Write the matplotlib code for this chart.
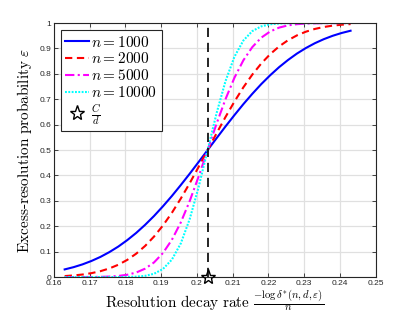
import matplotlib
matplotlib.use("Agg")
import matplotlib.pyplot as plt
import numpy as np
from matplotlib.ticker import FormatStrFormatter

plt.rcParams["mathtext.fontset"] = "cm"

# Decay rate grid (x) and excess-resolution probability
rate = np.linspace(0.163, 0.243, 33)
eps_1000 = [0.0301, 0.0390, 0.0500, 0.0634, 0.0793, 0.0982, 0.1200, 0.1453, 0.1736, 0.2055, 0.2404,
            0.2786, 0.3192, 0.3624, 0.4071, 0.4534, 0.5000, 0.5466, 0.5929, 0.6376, 0.6808, 0.7214,
            0.7596, 0.7945, 0.8264, 0.8547, 0.8800, 0.9018, 0.9207, 0.9366, 0.9500, 0.9610, 0.9699]
eps_2000 = [0.0039, 0.0064, 0.0100, 0.0154, 0.0231, 0.0339, 0.0484, 0.0675, 0.0919, 0.1224, 0.1594,
            0.2030, 0.2530, 0.3092, 0.3699, 0.4341, 0.5000, 0.5659, 0.6301, 0.6908, 0.7470, 0.7970,
            0.8406, 0.8776, 0.9081, 0.9325, 0.9516, 0.9661, 0.9769, 0.9846, 0.9900, 0.9936, 0.9961]
eps_5000 = [0.0000, 0.0000, 0.0001, 0.0003, 0.0008, 0.0019, 0.0043, 0.0090, 0.0178, 0.0330, 0.0575,
            0.0946, 0.1466, 0.2153, 0.2998, 0.3963, 0.5000, 0.6037, 0.7002, 0.7847, 0.8534, 0.9054,
            0.9425, 0.9670, 0.9822, 0.9910, 0.9957, 0.9981, 0.9992, 0.9997, 0.9999, 1.0000, 1.0000]
eps_10000 = [0.0000, 0.0000, 0.0000, 0.0000, 0.0000, 0.0000, 0.0001, 0.0004, 0.0015, 0.0047, 0.0129,
             0.0317, 0.0687, 0.1326, 0.2288, 0.3553, 0.5000, 0.6447, 0.7712, 0.8674, 0.9313, 0.9683,
             0.9871, 0.9953, 0.9985, 0.9996, 0.9999, 1.0000, 1.0000, 1.0000, 1.0000, 1.0000, 1.0000]
c_over_d = 0.203

x_ticks = [0.16, 0.17, 0.18, 0.19, 0.20, 0.21, 0.22, 0.23, 0.24, 0.25]
y_ticks = [0, 0.1, 0.2, 0.3, 0.4, 0.5, 0.6, 0.7, 0.8, 0.9, 1]

fig = plt.figure(figsize=(4.15, 3.12), dpi=100)
ax = fig.add_axes([0.13, 0.112, 0.775, 0.814])

ax.plot(rate, eps_1000, color=(0, 0, 1), lw=1.5, ls="-", label=r"$n = 1000$")
ax.plot(rate, eps_2000, color=(1, 0, 0), lw=1.5, ls=(0, (3.5, 2.2)), label=r"$n = 2000$")
ax.plot(rate, eps_5000, color=(1, 0, 1), lw=1.5, ls=(0, (4.5, 1.6, 1.0, 1.6)), label=r"$n = 5000$")
ax.plot(rate, eps_10000, color=(0, 1, 1), lw=1.5, ls=(0, (0.9, 0.7)), label=r"$n = 10000$")
ax.plot([c_over_d, c_over_d], [0, 1], color="black", lw=1.2, ls=(0, (5.5, 3.5)))
ax.plot([c_over_d], [0], marker="*", markersize=11, markerfacecolor="none",
        markeredgecolor="black", markeredgewidth=1.0, ls="none", clip_on=False,
        label=r"$\frac{C}{d}$", zorder=5)

ax.set_xlim(0.16, 0.25)
ax.set_ylim(0, 1)
ax.set_xticks(x_ticks)
ax.set_yticks(y_ticks)
ax.xaxis.set_major_formatter(FormatStrFormatter("%g"))
ax.yaxis.set_major_formatter(FormatStrFormatter("%g"))
ax.tick_params(direction="in", length=3, width=0.6, colors=(0.15, 0.15, 0.15),
               labelsize=6, top=True, right=True, pad=2)
for lab in ax.get_xticklabels() + ax.get_yticklabels():
    lab.set_family("Liberation Sans")
for sp in ax.spines.values():
    sp.set_color((0.15, 0.15, 0.15))
    sp.set_linewidth(0.8)
ax.grid(True, color=(0.88, 0.88, 0.88), lw=0.9)
ax.set_axisbelow(True)

ax.set_xlabel(r"$\mathrm{Resolution\ decay\ rate}\ \frac{-\log\delta^{*}(n,d,\varepsilon)}{n}$",
              fontsize=11, labelpad=1)
ax.set_ylabel(r"$\mathrm{Excess\text{-}resolution\ probability}\ \varepsilon$", fontsize=11, labelpad=4)

leg = ax.legend(loc="upper left", fontsize=11, handlelength=1.55, handletextpad=0.15,
                borderpad=0.3, labelspacing=0.12, fancybox=False, framealpha=1,
                borderaxespad=0.45)
leg.get_frame().set_edgecolor((0.15, 0.15, 0.15))
leg.get_frame().set_linewidth(0.8)

fig.savefig("out.png", dpi=100)
